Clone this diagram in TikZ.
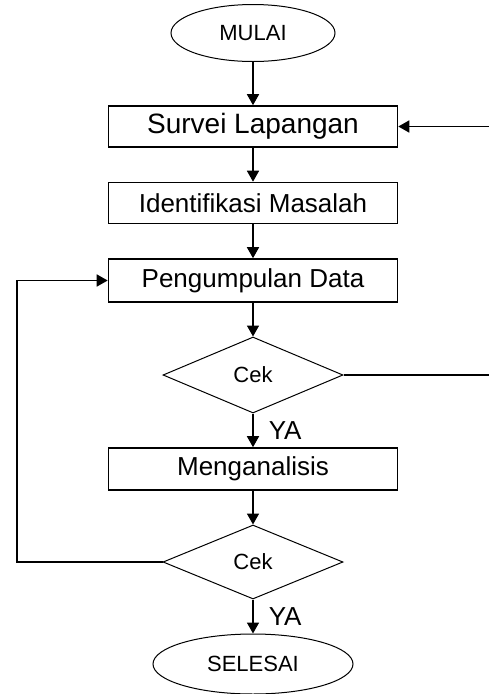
\documentclass[tikz,border=0pt]{standalone}
\usepackage{fontspec}
\setmainfont{Liberation Sans}
\usetikzlibrary{positioning,calc,shapes.geometric,arrows.meta}

\begin{document}
\begin{tikzpicture}[
  x=1pt, y=-1pt,
  line width=1.6pt,
  proc/.style={draw, rectangle, minimum width=289pt, minimum height=41pt, inner sep=0pt, font=\fontsize{26}{30}\selectfont},
  term/.style={draw, ellipse, inner sep=0pt, line width=1pt, font=\fontsize{22}{26}\selectfont},
  cek/.style={draw, diamond, minimum width=180pt, minimum height=76pt, inner sep=0pt, line width=1pt, font=\fontsize{22}{26}\selectfont},
  flow/.style={-{Triangle[width=12pt,length=11pt]}},
  ya/.style={font=\fontsize{26}{30}\selectfont, anchor=west, inner sep=0pt, xshift=15pt},
]
\useasboundingbox (0,0) rectangle (489,694);

% column of the flow
\def\cx{253}

% ---------- terminals and steps ----------
\node[term, minimum width=164pt, minimum height=57pt] (mulai) at (\cx,33) {MULAI};
\node[proc, font=\fontsize{28}{32}\selectfont] (survei) at (\cx,126.5) {Survei Lapangan};
\node[proc] (identifikasi) at (\cx,203) {Identifikasi Masalah};
\node[proc, minimum height=43pt] (pengumpulan) at (\cx,280.5) {Pengumpulan Data};
\node[cek] (cekA) at (\cx,375) {Cek};
\node[proc, minimum height=42pt] (menganalisis) at (\cx,469) {Menganalisis};
\node[cek, minimum height=74pt] (cekB) at (\cx,562) {Cek};
\node[term, minimum width=200pt, minimum height=60pt] (selesai) at (\cx,664) {SELESAI};

% ---------- main arrows ----------
\draw[flow] (mulai) -- (survei);
\draw[flow] (survei) -- (identifikasi);
\draw[flow] (identifikasi) -- (pengumpulan);
\draw[flow] (pengumpulan) -- (cekA);
\draw[flow] (cekA) -- (menganalisis) node[midway, ya] {YA};
\draw[flow] (menganalisis) -- (cekB);
\draw[flow] (cekB) -- (selesai) node[midway, ya] {YA};

% ---------- loops back ----------
\coordinate (kanan) at (496,375);
\draw[flow] (cekA.east) -- (kanan) |- (survei.east);
\coordinate (kiri) at (17,562);
\draw[flow] (cekB.west) -- (kiri) |- (pengumpulan.west);

\end{tikzpicture}
\end{document}
